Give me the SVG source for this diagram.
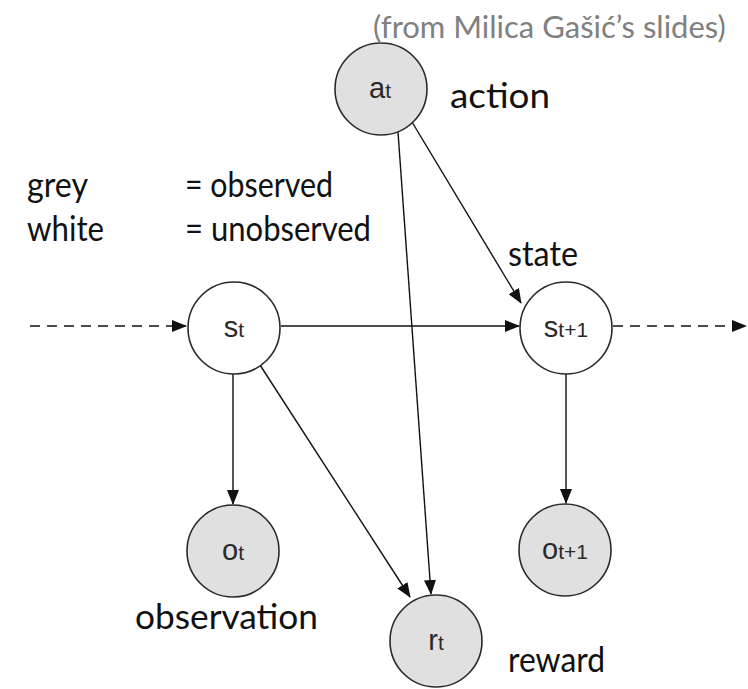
<svg xmlns="http://www.w3.org/2000/svg" width="748" height="689" viewBox="0 0 748 689">
  <style>
    .node { stroke: #2a2a2a; stroke-width: 1.6; }
    .obs { fill: #e0e0e0; }
    .hid { fill: #ffffff; }
    .lbl { font-family: "Liberation Sans", Arial, sans-serif; fill: #2a2a2a; text-anchor: middle; }
    .big { font-size: 29px; }
    .sub { font-size: 21px; }
    .edge { stroke: #111; stroke-width: 1.4; fill: none; marker-end: url(#arrow); }
    .dash { stroke-dasharray: 10 7; }
    .note { font-family: Lato, "Open Sans", sans-serif; font-size: 35px; fill: #111; }
    .credit { font-family: Lato, "Open Sans", sans-serif; font-size: 31px; fill: #808080; }
  </style>
  <defs>
    <marker id="arrow" markerWidth="15" markerHeight="12" refX="14" refY="6" orient="auto" markerUnits="userSpaceOnUse">
      <path d="M0,0 L15,6 L0,12 Z" fill="#111"/>
    </marker>
  </defs>

  <rect width="748" height="689" fill="#ffffff"/>

  <!-- connectors -->
  <g id="edges">
    <line class="edge dash" x1="30" y1="326" x2="186" y2="326"/>
    <line class="edge dash" x1="613" y1="326" x2="746" y2="326"/>
    <line class="edge" x1="281" y1="326" x2="519" y2="326"/>
    <line class="edge" x1="412" y1="122" x2="521" y2="303"/>
    <line class="edge" x1="398" y1="132" x2="431" y2="594"/>
    <line class="edge" x1="233" y1="374" x2="233" y2="504"/>
    <line class="edge" x1="260" y1="365" x2="410" y2="597"/>
    <line class="edge" x1="566" y1="374" x2="566" y2="503"/>
  </g>

  <!-- nodes -->
  <g id="a_t">
    <circle class="node obs" cx="381" cy="89" r="46"/>
    <text class="lbl" x="380" y="98"><tspan class="big">a</tspan><tspan class="sub">t</tspan></text>
  </g>
  <g id="s_t">
    <circle class="node hid" cx="234" cy="328" r="46"/>
    <text class="lbl" x="234" y="337"><tspan class="big">s</tspan><tspan class="sub">t</tspan></text>
  </g>
  <g id="s_t1">
    <circle class="node hid" cx="566" cy="328" r="46"/>
    <text class="lbl" x="566" y="337"><tspan class="big">s</tspan><tspan class="sub">t+1</tspan></text>
  </g>
  <g id="o_t">
    <circle class="node obs" cx="233" cy="551" r="46"/>
    <text class="lbl" x="233" y="560"><tspan class="big">o</tspan><tspan class="sub">t</tspan></text>
  </g>
  <g id="o_t1">
    <circle class="node obs" cx="565" cy="550" r="46"/>
    <text class="lbl" x="565" y="559"><tspan class="big">o</tspan><tspan class="sub">t+1</tspan></text>
  </g>
  <g id="r_t">
    <circle class="node obs" cx="436" cy="641" r="46"/>
    <text class="lbl" x="436" y="650"><tspan class="big">r</tspan><tspan class="sub">t</tspan></text>
  </g>

  <!-- annotations -->
  <g id="labels">
    <text class="credit" x="373" y="38">(from Milica Gašić’s slides)</text>
    <text class="note" x="450" y="108" textLength="100" lengthAdjust="spacingAndGlyphs">action</text>
    <text class="note" x="27" y="197" textLength="61" lengthAdjust="spacingAndGlyphs">grey</text>
    <text class="note" x="185" y="197" textLength="148" lengthAdjust="spacingAndGlyphs">= observed</text>
    <text class="note" x="27" y="241" textLength="77" lengthAdjust="spacingAndGlyphs">white</text>
    <text class="note" x="185" y="241" textLength="186" lengthAdjust="spacingAndGlyphs">= unobserved</text>
    <text class="note" x="508" y="266" textLength="70" lengthAdjust="spacingAndGlyphs">state</text>
    <text class="note" x="135" y="629" textLength="183" lengthAdjust="spacingAndGlyphs">observation</text>
    <text class="note" x="508" y="672" textLength="97" lengthAdjust="spacingAndGlyphs">reward</text>
  </g>
</svg>
